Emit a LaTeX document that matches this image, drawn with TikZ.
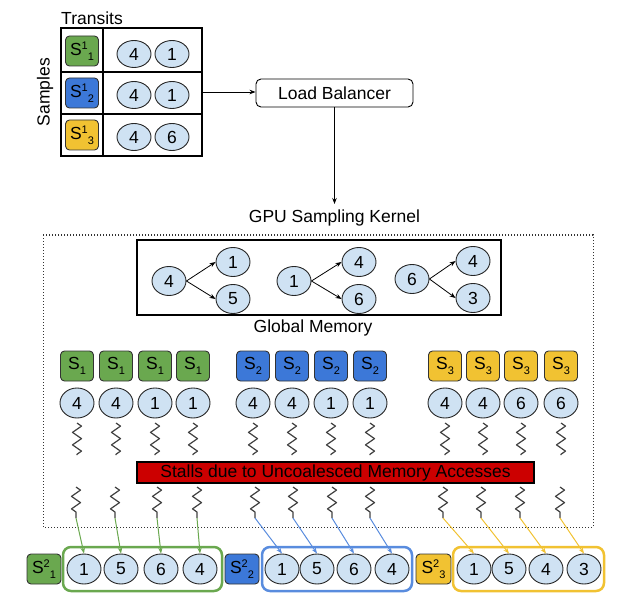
\documentclass[tikz,border=0pt]{standalone}
\usepackage{fontspec}
\setmainfont{Liberation Sans}
\usetikzlibrary{shapes.geometric,arrows.meta,decorations.pathmorphing}
\definecolor{cfill}{HTML}{CFE2F3}
\definecolor{gfill}{HTML}{6AA84F}
\definecolor{bfill}{HTML}{3C78D8}
\definecolor{yfill}{HTML}{F1C232}
\definecolor{redbar}{HTML}{CC0000}
\newcommand{\Ssupsub}[2]{S\raisebox{6pt}{\fontsize{11}{11}\selectfont #1}\raisebox{-5pt}{\fontsize{11}{11}\selectfont #2}}
\newcommand{\Ssubonly}[1]{S\raisebox{-5pt}{\fontsize{11}{11}\selectfont #1}}
\begin{document}
\begin{tikzpicture}[x=1pt,y=-1pt,font=\fontsize{17.5}{20}\selectfont,
  cnode/.style={ellipse,draw=black!85,fill=cfill,line width=0.9pt,minimum width=34pt,minimum height=30pt,inner sep=0pt},
  tnode/.style={cnode,minimum height=27pt},
  sbox/.style={rectangle,rounded corners=4pt,draw=black!80,line width=0.9pt,minimum width=33pt,minimum height=30pt,inner sep=0pt},
  squig/.style={decorate,decoration={zigzag,segment length=12.5pt,amplitude=4.5pt},draw=black!75,line width=1.2pt,line join=round},
  arr/.style={-{Stealth[length=6pt,width=4.5pt]},line width=0.8pt},
  carr/.style={-{Stealth[length=6pt,width=4.5pt]},line width=1pt},
  cont/.style={rectangle,rounded corners=8pt,line width=2.5pt,minimum height=44pt,inner sep=0pt}]
\useasboundingbox (0,0) rectangle (621,604);

% ---- top table ----
\node[rectangle,draw,line width=1.2pt,minimum width=141pt,minimum height=128pt,inner sep=0pt] (tab) at (131.5,92) {};
\draw[line width=1.2pt] (61,72) -- (202,72) (61,114) -- (202,114) (103,28) -- (103,156);
\node (transits) at (92,18) {Transits};
\node[rotate=90] (samples) at (45,92) {Samples};
\node[sbox,fill=gfill] (t1) at (82,51) {\Ssupsub{1}{1}};
\node[sbox,fill=bfill] (t2) at (82,93) {\Ssupsub{1}{2}};
\node[sbox,fill=yfill] (t3) at (82,135) {\Ssupsub{1}{3}};
\node[tnode] (ta1) at (134,54) {4};
\node[tnode] (tb1) at (172,54) {1};
\node[tnode] (ta2) at (134,95) {4};
\node[tnode] (tb2) at (172,95) {1};
\node[tnode] (ta3) at (134,137) {4};
\node[tnode] (tb3) at (172,137) {6};

% ---- load balancer ----
\node[rectangle,rounded corners=5pt,draw,line width=0.9pt,minimum width=157pt,minimum height=28pt] (lb) at (334.5,93) {Load Balancer};
\draw[arr] (tab.east) -- (tab.east -| lb.west);
\coordinate (gpuin) at (334.5,204);
\draw[arr] (lb.south) -- (gpuin);
\node (gpu) at (334.5,218) {GPU Sampling Kernel};

% ---- dotted kernel box ----
\draw[dotted,line width=1pt,black!80] (43,235) rectangle (593,527);

% ---- global memory ----
\node[rectangle,draw,line width=1.2pt,minimum width=364pt,minimum height=75pt] (gm) at (319,277.5) {};
\node (gmlabel) at (313,328) {Global Memory};
\node[cnode,minimum height=29pt] (ga) at (169,281) {4};
\node[cnode,minimum height=29pt] (gb) at (233,262) {1};
\node[cnode,minimum height=29pt] (gc) at (233,299) {5};
\node[cnode,minimum height=29pt] (gd) at (294,281) {1};
\node[cnode,minimum height=29pt] (ge) at (359,262) {4};
\node[cnode,minimum height=29pt] (gf) at (359,299) {6};
\node[cnode,minimum height=29pt] (gg) at (412,279) {6};
\node[cnode,minimum height=29pt] (gh) at (473,261) {4};
\node[cnode,minimum height=29pt] (gi) at (473,298) {3};
\draw[arr] (ga.east) -- (gb.west);
\draw[arr] (ga.east) -- (gc.west);
\draw[arr] (gd.east) -- (ge.west);
\draw[arr] (gd.east) -- (gf.west);
\draw[arr] (gg.east) -- (gh.west);
\draw[arr] (gg.east) -- (gi.west);

% ---- sample rows ----
\foreach \x/\v [count=\i] in {77/4,116/4,155/1,193/1}{
  \node[sbox,fill=gfill] (sg\i) at (\x,366) {\Ssubonly{1}};
  \node[cnode] (mg\i) at (\x,403) {\v};
  \draw[squig] (\x,423) -- (\x,455);
}
\foreach \x/\v [count=\i] in {253/4,292/4,331/1,370/1}{
  \node[sbox,fill=bfill] (sb\i) at (\x,366) {\Ssubonly{2}};
  \node[cnode] (mb\i) at (\x,403) {\v};
  \draw[squig] (\x,423) -- (\x,455);
}
\foreach \x/\v [count=\i] in {445/4,483/4,521/6,561/6}{
  \node[sbox,fill=yfill] (sy\i) at (\x,366) {\Ssubonly{3}};
  \node[cnode] (my\i) at (\x,403) {\v};
  \draw[squig] (\x,423) -- (\x,455);
}

% ---- stall bar ----
\node[rectangle,draw,line width=1.2pt,fill=redbar,minimum width=397pt,minimum height=21pt,inner sep=0pt] (stall) at (335.5,472.5) {Stalls due to Uncoalesced Memory Accesses};

% ---- output ----
\node[sbox,fill=gfill,minimum width=34pt] (o1) at (44,569) {\Ssupsub{2}{1}};
\node[sbox,fill=bfill,minimum width=34pt] (o2) at (242,569) {\Ssupsub{2}{2}};
\node[sbox,fill=yfill,minimum width=35pt] (o3) at (433.5,569) {\Ssupsub{2}{3}};
\node[cont,draw=gfill,minimum width=159pt] (cg) at (142.5,569) {};
\node[cont,draw=bfill!85!white,minimum width=150pt] (cb) at (337,569) {};
\node[cont,draw=yfill,minimum width=151pt] (cy) at (528.5,569) {};

\foreach \xq/\xc/\v [count=\i] in {76/84/1,115/121/5,157/161/6,197/200/4}{
  \draw[squig] (\xq,487) -- (\xq,518);
  \coordinate (qg\i) at (\xq,518);
  \node[cnode] (rg\i) at (\xc,569) {\v};
  \draw[carr,gfill] (qg\i) -- (rg\i.north);
}
\foreach \xq/\xc/\v [count=\i] in {255/282/1,293/317/5,332/354/6,370/392/4}{
  \draw[squig] (\xq,487) -- (\xq,518);
  \coordinate (qb\i) at (\xq,518);
  \node[cnode] (rb\i) at (\xc,569) {\v};
  \draw[carr,bfill!85!white] (qb\i) -- (rb\i.north);
}
\foreach \xq/\xc/\v [count=\i] in {443/474/1,481/509/5,520/546/4,560/584/3}{
  \draw[squig] (\xq,487) -- (\xq,518);
  \coordinate (qy\i) at (\xq,518);
  \node[cnode] (ry\i) at (\xc,569) {\v};
  \draw[carr,yfill] (qy\i) -- (ry\i.north);
}
\end{tikzpicture}
\end{document}
